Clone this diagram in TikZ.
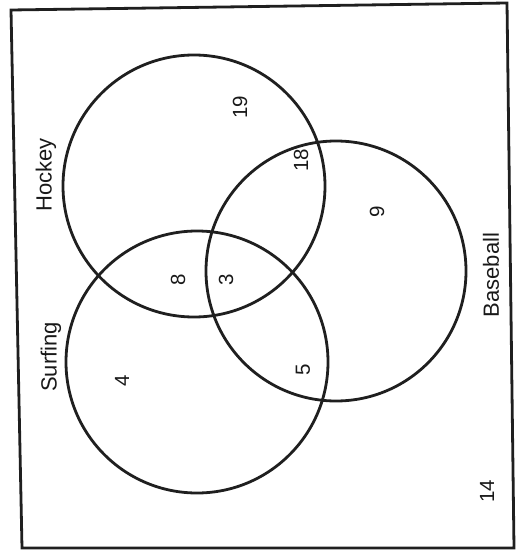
\documentclass[tikz,border=0pt]{standalone}
\usepackage{fontspec}
\setmainfont{Liberation Sans}
\begin{document}
\begin{tikzpicture}[x=1pt,y=-1pt,
  ink/.style={draw=black!88, line width=2.8pt},
  set/.style={ink, circle, inner sep=0pt},
  lbl/.style={rotate=90, font=\fontsize{22}{22}\selectfont, text=black!90, inner sep=0pt},
  num/.style={rotate=90, font=\fontsize{20.5}{20.5}\selectfont, text=black!90, inner sep=0pt}]
\useasboundingbox (0,0) rectangle (516,559);
% frame
\coordinate (tl) at (11,10);
\coordinate (tr) at (507,3);
\coordinate (br) at (514,548);
\coordinate (bl) at (22,548);
\draw[ink, line join=miter] (tl) -- (tr) -- (br) -- (bl) -- cycle;
% circles
\node[set, minimum size=262pt] (hockey) at (194,186) {};
\node[set, minimum size=262pt] (surfing) at (197,362) {};
\node[set, minimum size=260pt] (baseball) at (336,271) {};
% labels
\node[lbl] (lh) at (46,175) {Hockey};
\node[lbl] (ls) at (51,357) {Surfing};
\node[lbl] (lb) at (491,275) {Baseball};
% numbers
\node[num] (n19) at (240,107) {19};
\node[num] (n18) at (301,160) {18};
\node[num] (n9) at (377,212) {9};
\node[num] (n8) at (178,280) {8};
\node[num] (n3) at (226,280) {3};
\node[num] (n4) at (122,381) {4};
\node[num] (n5) at (303,370) {5};
\node[num] (n14) at (487,491) {14};
\end{tikzpicture}
\end{document}
